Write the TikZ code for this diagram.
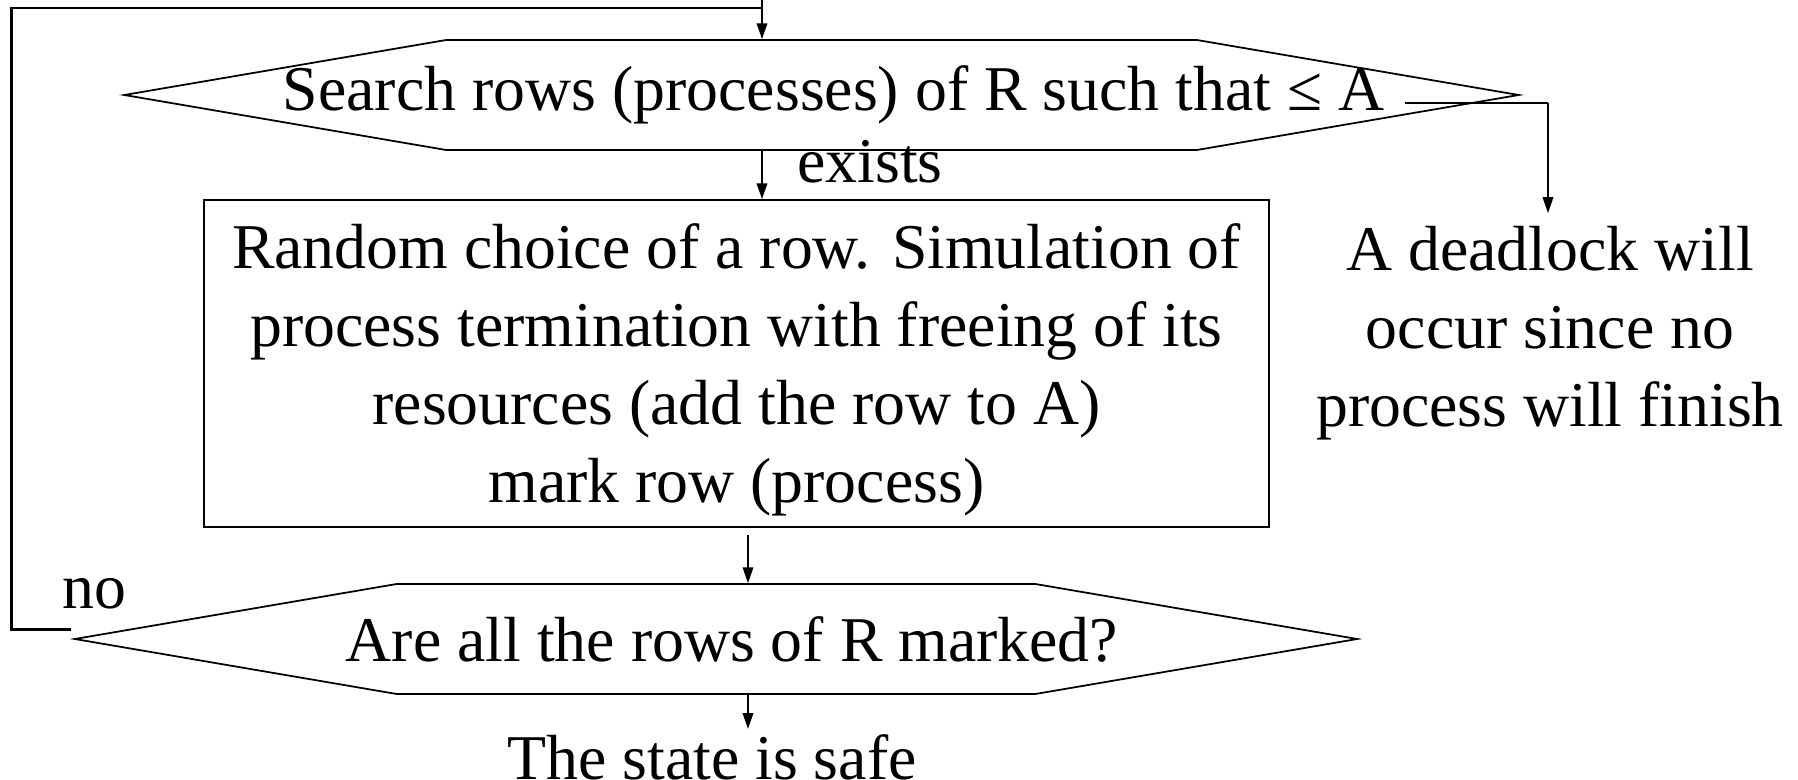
\documentclass[tikz,border=0pt]{standalone}
\usepackage{fontspec}
\setmainfont{Liberation Serif}
\usepackage{tikz}
\usetikzlibrary{arrows.meta,positioning,shapes.symbols}
\definecolor{trazo}{HTML}{000000}
\newcommand{\grande}{\fontsize{36.3}{44.5}\selectfont}
\tikzset{
  decision/.style={signal,signal to=west and east,signal pointer angle=19.4,draw=trazo,line width=1pt,inner sep=0pt,minimum height=2.2cm,font=\grande},
  caja/.style={rectangle,draw=trazo,line width=1pt,align=center,inner sep=0pt,minimum width=21.3cm,minimum height=6.54cm,font=\grande},
  texto/.style={align=center,inner sep=0pt,font=\grande},
  flecha/.style={draw=trazo,line width=1pt,-{Triangle[length=9pt,width=6pt]}},
  lazo/.style={draw=trazo,line width=1.5pt},
}
\begin{document}
\begin{tikzpicture}[x=0.02cm,y=-0.02cm]
\useasboundingbox (0,0) rectangle (1798,780);
\coordinate (colA) at (762,0);
\coordinate (colB) at (748,0);
\node[decision] (buscar) at (821.5,95) {\makebox[15.02cm]{\hspace{0.48cm}Search rows (processes) of R such that ≤ A}};
\node[caja] (simular) at (736.5,363.5) {\rule{0pt}{1.16cm}Random choice of a row. Simulation of\\process termination with freeing of its\\resources (add the row to A)\\mark row (process)};
\node[decision] (marcadas) at (716,639) {\makebox[12.78cm]{\hspace{0.64cm}Are all the rows of R marked?}};
\node[texto] (seguro) at (712,757) {The state is safe};
\node[texto] (bloqueo) at (1550,333) {A deadlock will\\occur since no\\process will finish};
\node[texto,anchor=west] (existe) at (797,162) {exists};
\node[texto] (nolab) at (94,594) {no};
\coordinate (finA) at (1405,103);
\coordinate (esqA) at (1548,103);
\coordinate (noini) at (71,629.5);
\coordinate (lazo1) at (11.5,629.5);
\coordinate (lazo2) at (11.5,8);
\coordinate (salida) at (748,535);
% conectores
\draw[lazo] (noini) -- (lazo1) -- (lazo2) -| (colA);
\draw[flecha] (lazo2 -| colA) -- (buscar.north -| colA);
\draw[flecha] (buscar.south -| colA) -- (simular.north -| colA);
\draw[flecha] (salida) -- (marcadas.north -| colB);
\draw[flecha] (marcadas.south -| colB) -- ([yshift=0.1cm]seguro.north -| colB);
\draw[lazo] (finA) -- (esqA);
\draw[flecha] (esqA) -- ([yshift=0.25cm]bloqueo.north -| esqA);
\end{tikzpicture}
\end{document}
